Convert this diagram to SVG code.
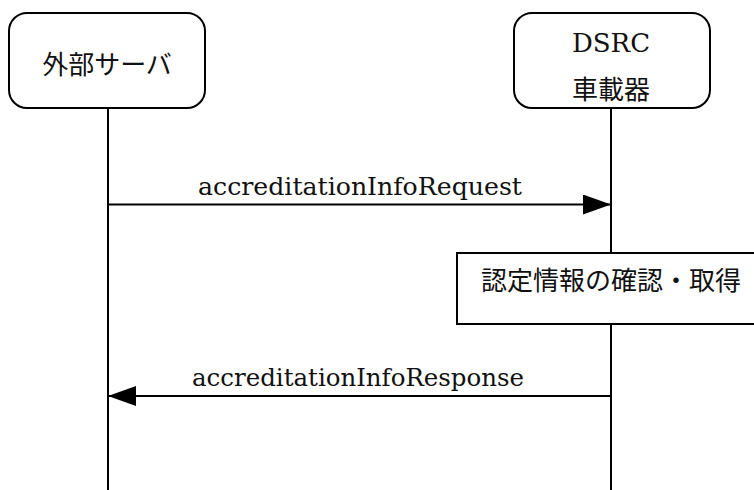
<svg xmlns="http://www.w3.org/2000/svg" width="754" height="490" viewBox="0 0 754 490">
<style>
.box{fill:#fff;stroke:#000;stroke-width:2}
.life{stroke:#000;stroke-width:2;fill:none}
.msg{stroke:#000;stroke-width:2;fill:none;marker-end:url(#arr)}
.jp{font-family:"Noto Sans CJK JP","Noto Sans CJK SC",sans-serif;font-size:26px;fill:#111;text-anchor:middle}
.en{font-family:"DejaVu Serif","Liberation Serif",serif;font-size:24px;fill:#111;text-anchor:middle}
</style>
<defs>
<marker id="arr" markerWidth="28" markerHeight="20" refX="28" refY="10" orient="auto" markerUnits="userSpaceOnUse">
<path d="M0,0 L28,10 L0,20 z" fill="#000"/>
</marker>
</defs>
<g id="lifelines">
<line class="life" x1="108" y1="108" x2="108" y2="490"/>
<line class="life" x1="611" y1="108" x2="611" y2="490"/>
</g>
<g id="external-server">
<rect class="box" x="9" y="13" width="196" height="95" rx="18" ry="18"/>
<text class="jp" x="107" y="74">外部サーバ</text>
</g>
<g id="dsrc-onboard">
<rect class="box" x="514" y="13" width="196" height="95" rx="18" ry="18"/>
<text class="en" x="611" y="52" font-size="26" style="font-size:26px">DSRC</text>
<text class="jp" x="611" y="99">車載器</text>
</g>
<g id="connectors">
<line class="msg" x1="108" y1="204.5" x2="611" y2="204.5"/>
<text class="en" x="360" y="195" textLength="324" lengthAdjust="spacingAndGlyphs">accreditationInfoRequest</text>
<line class="msg" x1="611" y1="396" x2="108" y2="396"/>
<text class="en" x="358" y="386" textLength="332" lengthAdjust="spacingAndGlyphs">accreditationInfoResponse</text>
</g>
<g id="process">
<rect class="box" x="457" y="253" width="310" height="71"/>
<text class="jp" x="611" y="290">認定情報の確認・取得</text>
</g>
</svg>
